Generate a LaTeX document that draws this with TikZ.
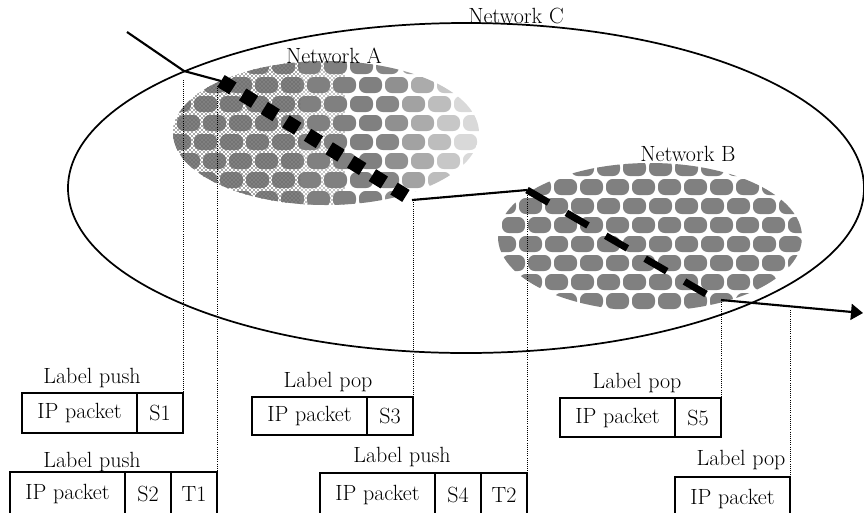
\documentclass[tikz,border=0pt]{standalone}
\usepackage{amsmath}
\usepackage{tikz}
\usetikzlibrary{arrows.meta,patterns}

\tikzset{
  txt/.style={inner sep=0.75pt, font=\fontsize{16.5}{19}\selectfont},
  cell/.style={draw, line width=1.2pt, inner sep=0pt, outer sep=0pt, minimum height=30pt, txt},
  ipcell/.style={cell, minimum width=86.25pt},
  tagcell/.style={cell, minimum width=34.5pt},
  guide/.style={densely dotted, line width=0.6pt},
  route/.style={line width=1.6pt},
  meshgray/.style={fill=black!50},
}

\begin{document}
\begin{tikzpicture}[x=0.75pt,y=0.75pt,yscale=-1,xscale=1]
\useasboundingbox (0,0) rectangle (864,512);
\clip (0,0) rectangle (864,512);

% outer network
\draw[line width=1.3pt] (466,188) ellipse [x radius=398, y radius=165];

% network A mesh
\begin{scope}
  \clip (326,133) ellipse [x radius=153, y radius=72];
  \fill[pattern=crosshatch dots, pattern color=black] (170,55) rectangle (345,210);
  \foreach \r in {0,...,7}
    \foreach \c in {0,...,12} {
      \pgfmathsetmacro\xx{168+26*\c+9*mod(\r,2)}
      \pgfmathsetmacro\yy{58+19*\r}
      \pgfmathsetmacro\op{min(1,max(0.3,(490-\xx)/120))}
      \fill[meshgray, fill opacity=\op, rounded corners=5pt] (\xx,\yy) rectangle ++(23,16);
    }
  \fill[pattern=crosshatch dots, pattern color=black!70] (170,55) rectangle (300,210);
\end{scope}

% network B mesh
\begin{scope}
  \clip (650,237) ellipse [x radius=152, y radius=74];
  \foreach \r in {0,...,8}
    \foreach \c in {0,...,12} {
      \pgfmathsetmacro\xx{493+26*\c+9*mod(\r,2)}
      \pgfmathsetmacro\yy{160+19*\r}
      \fill[meshgray, rounded corners=5pt] (\xx,\yy) rectangle ++(23,16);
    }
\end{scope}

% route points
\coordinate (src) at (127,32);
\coordinate (cross) at (184,71);
\coordinate (inA) at (221,81);
\coordinate (outA) at (406,196);
\coordinate (linkA) at (412,200);
\coordinate (inB) at (527,190);
\coordinate (outB) at (706,294);
\coordinate (exitB) at (721,300);
\coordinate (dst) at (863,313);

% guide tops
\coordinate (g1) at (183,80);
\coordinate (g2) at (217,86);
\coordinate (g3) at (412,200);
\coordinate (g4) at (527,193);
\coordinate (g5) at (721,300);
\coordinate (g6) at (790,310);

\draw[route] (src) -- (cross) -- (inA);
\draw[line width=10.5pt, dash pattern=on 10.5pt off 8.6pt] (inA) -- (outA);
\draw[route] (linkA) -- (inB);
\draw[line width=5.25pt, dash pattern=on 18.75pt off 15.4pt] (inB) -- (outB);
\draw[route, -{Triangle[length=9pt,width=12pt]}] (exitB) -- (dst);

\node[txt] (netC) at (516,16) {Network C};
\node[txt] (netA) at (334,56) {Network A};
\node[txt] (netB) at (688,154) {Network B};

% packets
\node[ipcell, anchor=north west] (p1) at (22,393) {IP packet};
\node[tagcell, anchor=north west] (s1) at (p1.north east) {S1};
\node[txt] (l1) at (92,378) {Label push};

\node[ipcell, minimum height=33pt, anchor=north west] (p2) at (10,472) {IP packet};
\node[tagcell, minimum height=33pt, anchor=north west] (s2) at (p2.north east) {S2};
\node[tagcell, minimum height=33pt, anchor=north west] (t1) at (s2.north east) {T1};
\node[txt] (l2) at (92,462) {Label push};

\node[ipcell, minimum height=28.5pt, anchor=north west] (p3) at (252,397) {IP packet};
\node[tagcell, minimum height=28.5pt, anchor=north west] (s3) at (p3.north east) {S3};
\node[txt] (l3) at (328,382) {Label pop};

\node[ipcell, minimum height=33pt, anchor=north west] (p4) at (320,473) {IP packet};
\node[tagcell, minimum height=33pt, anchor=north west] (s4) at (p4.north east) {S4};
\node[tagcell, minimum height=33pt, anchor=north west] (t2) at (s4.north east) {T2};
\node[txt] (l4) at (402,457) {Label push};

\node[ipcell, minimum height=29.25pt, anchor=north west] (p5) at (560,398) {IP packet};
\node[tagcell, minimum height=29.25pt, anchor=north west] (s5) at (p5.north east) {S5};
\node[txt] (l5) at (637,383) {Label pop};

\node[ipcell, minimum height=33pt, anchor=north west] (p6) at (675,477) {IP packet};
\node[txt] (l6) at (741,460) {Label pop};

% drop lines to the packets
\draw[guide] (s1.north east |- g1) -- (s1.north east);
\draw[guide] (t1.north east |- g2) -- (t1.north east);
\draw[guide] (s3.north east |- g3) -- (s3.north east);
\draw[guide] (t2.north east |- g4) -- (t2.north east);
\draw[guide] (s5.north east |- g5) -- (s5.north east);
\draw[guide] (p6.north east |- g6) -- (p6.north east);
\end{tikzpicture}
\end{document}
